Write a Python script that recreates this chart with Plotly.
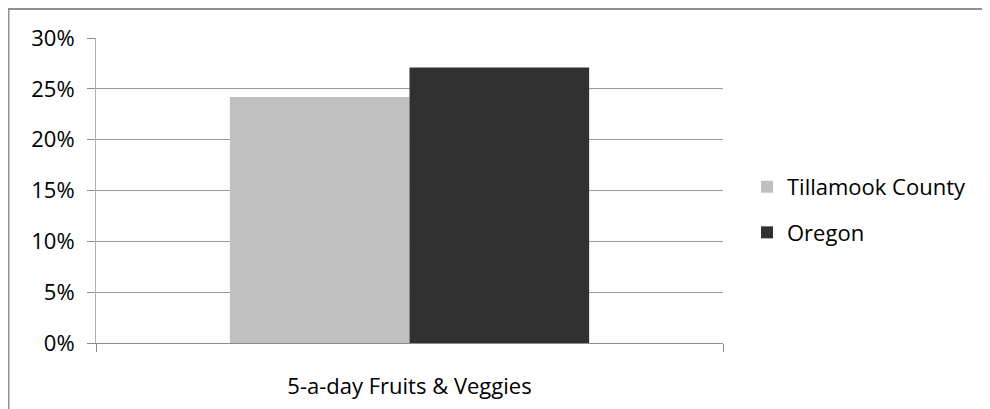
import plotly.graph_objects as go

categories = ["5-a-day Fruits & Veggies"]
series_names = ["Tillamook County", "Oregon"]
tillamook = [0.242]
oregon = [0.271]
y_ticks = [0, 0.05, 0.10, 0.15, 0.20, 0.25, 0.30]

colors = ["#c0c0c0", "#313131"]
FONT = "Open Sans"
FS = 22

fig = go.Figure()
for name, vals, col in zip(series_names, [tillamook, oregon], colors):
    fig.add_trace(go.Bar(x=categories, y=vals, name=name, marker=dict(color=col, line=dict(width=0)),
                         legendgroup=name))

# the page body adds an 8px offset, so figure coords = screen coords - 8
W, H = 982, 401
L, T = 88, 29.5
R = W - 715
B = H - 335.5
pw = W - L - R
ph = H - T - B

def px_x(x):
    return (x - L) / pw

def px_y(y):
    return (H - B - y) / ph

fig.add_shape(type="rect", xref="paper", yref="paper",
              x0=px_x(0.5), x1=px_x(1100), y0=px_y(0.5), y1=px_y(500),
              line=dict(color="#909090", width=2), fillcolor="rgba(0,0,0,0)", layer="below")

fig.update_layout(
    width=W, height=H,
    margin=dict(l=L, r=R, t=T, b=B, pad=0, autoexpand=False),
    paper_bgcolor="white", plot_bgcolor="white",
    barmode="group", bargap=0.427, bargroupgap=0,
    font=dict(family=FONT, size=FS, color="#000000"),
    showlegend=True,
    legend=dict(x=px_x(739), xanchor="left", y=px_y(202), yanchor="middle",
                traceorder="grouped", tracegroupgap=14, font=dict(size=FS, family=FONT),
                bgcolor="rgba(0,0,0,0)"),
    xaxis=dict(type="category", showline=True, linecolor="#8c8c8c", linewidth=1,
               ticks="outside", ticklen=8, tickcolor="#8c8c8c", tickson="boundaries",
               showgrid=False, ticklabelstandoff=24, automargin=False,
               tickfont=dict(size=FS, family=FONT)),
    yaxis=dict(range=[0, 0.30], tickvals=y_ticks, tickformat=".0%", showline=True,
               linecolor="#b0b0b0", linewidth=1, ticks="outside", ticklen=8, tickcolor="#8c8c8c",
               showgrid=True, gridcolor="#999999", gridwidth=1, zeroline=False,
               ticklabelstandoff=8, automargin=False, tickfont=dict(size=FS, family=FONT)),
)

fig.write_html("out.html")
